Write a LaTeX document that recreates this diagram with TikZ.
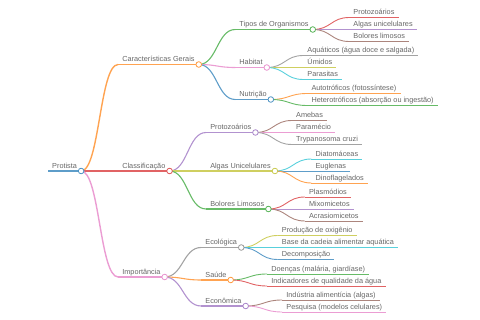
\documentclass[tikz,border=0pt]{standalone}
\usepackage{fontspec}
\setmainfont{Liberation Sans}
\usepackage{tikz}
\usetikzlibrary{calc}

\definecolor{mmblue}{HTML}{1F77B4}
\definecolor{mmorange}{HTML}{FF7F0E}
\definecolor{mmgreen}{HTML}{2CA02C}
\definecolor{mmred}{HTML}{D62728}
\definecolor{mmpurple}{HTML}{9467BD}
\definecolor{mmbrown}{HTML}{8C564B}
\definecolor{mmpink}{HTML}{E377C2}
\definecolor{mmgray}{HTML}{7F7F7F}
\definecolor{mmolive}{HTML}{BCBD22}
\definecolor{mmcyan}{HTML}{17BECF}
\definecolor{textgray}{HTML}{666666}

\begin{document}
\begin{tikzpicture}[x=1pt, y=-1pt,
  topic/.style={anchor=south west, inner xsep=4pt, inner ysep=1pt,
    text height=5.4pt, text depth=1.6pt, text=textgray,
    font=\fontsize{7.3}{8}\selectfont},
  uline/.style={draw=#1!72!white, line width=0.9pt},
  link/.style={draw=#1!72!white, line width=0.9pt},
  dot/.style={circle, draw=#1!80!white, fill=white, line width=0.8pt,
    minimum size=5.6pt, inner sep=0pt}]

\useasboundingbox (0,0) rectangle (480,320);

% Root
\node[topic] (protista) at (48,171) {Protista};
\draw[uline=mmblue, line width=1.8pt] (protista.south west) -- (protista.south east);

% First level
\node[topic] (carac) at ($(protista.south east)+(37,-106.5)$) {Características Gerais};
\node[topic] (classif) at ($(protista.south east)+(37,0)$) {Classificação};
\node[topic] (import) at ($(protista.south east)+(37,106)$) {Importância};

\draw[uline=mmorange, line width=1.4pt] (carac.south west) -- (carac.south east);
\draw[uline=mmred, line width=1.4pt] (classif.south west) -- (classif.south east);
\draw[uline=mmpink, line width=1.4pt] (import.south west) -- (import.south east);

\draw[link=mmorange, line width=1.4pt] (protista.south east) .. controls +(18.5,0) and +(-18.5,0) .. (carac.south west);
\draw[link=mmred, line width=1.4pt] (protista.south east) -- (classif.south west);
\draw[link=mmpink, line width=1.4pt] (protista.south east) .. controls +(18.5,0) and +(-18.5,0) .. (import.south west);

% Second level
\node[topic] (tipos) at ($(carac.south east)+(36.5,-35)$) {Tipos de Organismos};
\node[topic] (habitat) at ($(carac.south east)+(36.5,3)$) {Habitat};
\node[topic] (nutri) at ($(carac.south east)+(36.5,35)$) {Nutrição};
\node[topic] (protoz) at ($(classif.south east)+(36.5,-38.5)$) {Protozoários};
\node[topic] (algas) at ($(classif.south east)+(36.5,0)$) {Algas Unicelulares};
\node[topic] (bolores) at ($(classif.south east)+(36.5,38)$) {Bolores Limosos};
\node[topic] (ecol) at ($(import.south east)+(36.5,-29.5)$) {Ecológica};
\node[topic] (saude) at ($(import.south east)+(36.5,3)$) {Saúde};
\node[topic] (econ) at ($(import.south east)+(36.5,29)$) {Econômica};

\foreach \up/\nm/\col in {carac/tipos/mmgreen, carac/habitat/mmpink, carac/nutri/mmblue,
    classif/protoz/mmpurple, classif/algas/mmolive, classif/bolores/mmgreen,
    import/ecol/mmgray, import/saude/mmorange, import/econ/mmpurple}{
  \draw[uline=\col, line width=1.1pt] (\nm.south west) -- (\nm.south east);
  \draw[link=\col, line width=1.1pt] (\up.south east) .. controls +(18.25,0) and +(-18.25,0) .. (\nm.south west);
}

% Leaves
\foreach \up/\nm/\dy/\col/\txt in {
    tipos/t-protoz/-12/mmred/Protozoários,
    tipos/t-algas/0/mmpurple/Algas unicelulares,
    tipos/t-bolores/12/mmbrown/Bolores limosos,
    habitat/h-aquat/-12/mmgray/Aquáticos (água doce e salgada),
    habitat/h-umidos/0/mmolive/Úmidos,
    habitat/h-parasit/12/mmcyan/Parasitas,
    nutri/n-auto/-6/mmorange/Autotróficos (fotossíntese),
    nutri/n-hetero/6/mmgreen/Heterotróficos (absorção ou ingestão),
    protoz/p-amebas/-12/mmbrown/Amebas,
    protoz/p-paramec/0/mmpink/Paramécio,
    protoz/p-trypano/12/mmgray/Trypanosoma cruzi,
    algas/a-diatom/-12/mmcyan/Diatomáceas,
    algas/a-euglen/0/mmblue/Euglenas,
    algas/a-dinofl/12/mmorange/Dinoflagelados,
    bolores/b-plasmod/-12/mmred/Plasmódios,
    bolores/b-mixom/0/mmpurple/Mixomicetos,
    bolores/b-acras/12/mmbrown/Acrasiomicetos,
    ecol/e-oxig/-12/mmolive/Produção de oxigênio,
    ecol/e-cadeia/0/mmcyan/Base da cadeia alimentar aquática,
    ecol/e-decomp/12/mmblue/Decomposição,
    saude/s-doencas/-6/mmgreen/{Doenças (malária, giardíase)},
    saude/s-indic/6/mmred/Indicadores de qualidade da água,
    econ/c-indust/-6/mmbrown/Indústria alimentícia (algas),
    econ/c-pesq/6/mmpink/Pesquisa (modelos celulares)}{
  \node[topic] (\nm) at ($(\up.south east)+(36.5,\dy)$) {\txt};
  \draw[uline=\col] (\nm.south west) -- (\nm.south east);
  \draw[link=\col] (\up.south east) .. controls +(18.25,0) and +(-18.25,0) .. (\nm.south west);
}

% Circles on the branching points
\foreach \nm/\col in {protista/mmblue, carac/mmorange, classif/mmred, import/mmpink,
    tipos/mmgreen, habitat/mmpink, nutri/mmblue, protoz/mmpurple, algas/mmolive,
    bolores/mmgreen, ecol/mmgray, saude/mmorange, econ/mmpurple}
  \node[dot=\col] (\nm-dot) at (\nm.south east) {};

\end{tikzpicture}
\end{document}
